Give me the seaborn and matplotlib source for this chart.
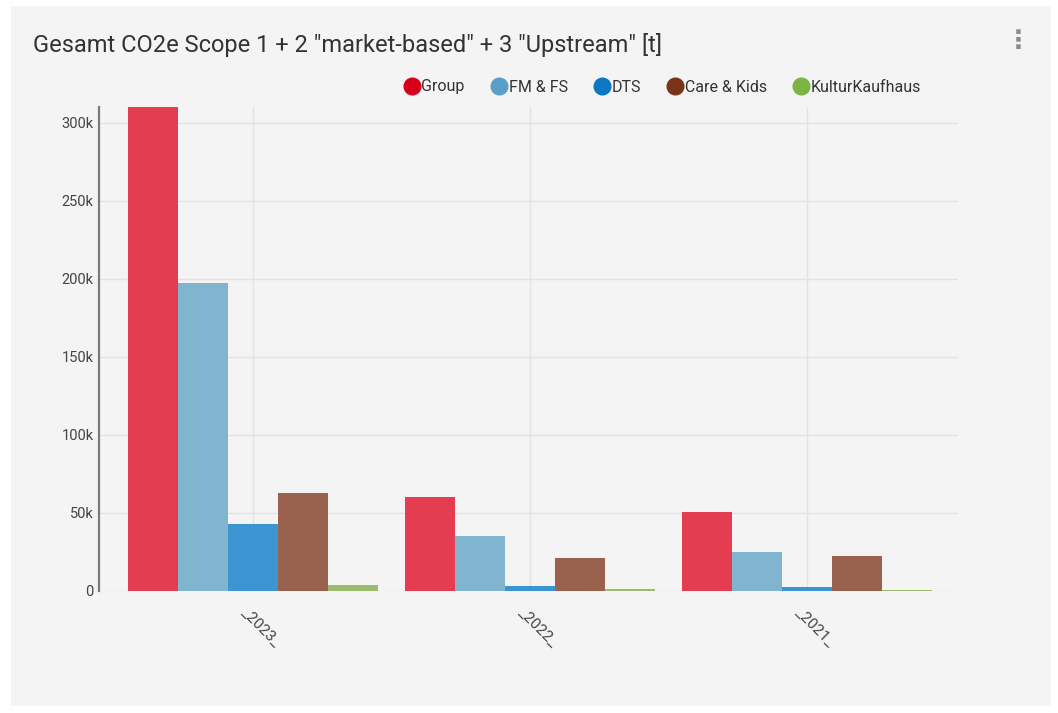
import matplotlib
matplotlib.use("Agg")
import matplotlib.pyplot as plt
import matplotlib.transforms as mtrans
from matplotlib.patches import Rectangle
from matplotlib.lines import Line2D
from matplotlib.ticker import FuncFormatter, MultipleLocator
import seaborn as sns
import pandas as pd

# Data: total CO2e (t) per business unit and year
years = ["_2023_", "_2022_", "_2021_"]
series = ["Group", "FM & FS", "DTS", "Care & Kids", "KulturKaufhaus"]
group_vals = [310000, 60400, 50800]
fmfs_vals = [197000, 35200, 25200]
dts_vals = [42900, 3200, 2700]
care_vals = [62500, 21300, 22200]
kultur_vals = [4000, 1000, 800]

bar_colors = ["#e43c50", "#81b4ce", "#3c94d0", "#9a624e", "#9bbb6e"]
legend_colors = ["#d7001c", "#5a9fc8", "#0a78c2", "#7a3418", "#7cb342"]

values = [group_vals, fmfs_vals, dts_vals, care_vals, kultur_vals]
rows = []
for name, vals in zip(series, values):
    for yr, v in zip(years, vals):
        rows.append({"year": yr, "unit": name, "value": v})
df = pd.DataFrame(rows)

sns.set_theme(style="white")
plt.rcParams["font.family"] = ["Roboto", "DejaVu Sans"]

W, H = 1058, 713
fig = plt.figure(figsize=(W / 100, H / 100), dpi=100)
fig.patch.set_facecolor("white")

# card background
card = Rectangle((11 / W, 1 - 706 / H), (1051 - 11) / W, (706 - 6) / H,
                 transform=fig.transFigure, facecolor="#f4f4f4",
                 edgecolor="none", zorder=-5)
fig.patches.append(card)

ax = fig.add_axes([99 / W, 1 - 591 / H, (958 - 99) / W, (591 - 107) / H])
ax.set_facecolor("#f4f4f4")

sns.barplot(data=df, x="year", y="value", hue="unit", order=years,
            hue_order=series, palette=bar_colors, width=0.9, saturation=1,
            dodge=True, ax=ax, legend=False, errorbar=None, linewidth=0)

ax.set_ylim(0, max(group_vals))
ax.set_xlim(-0.556, 2.545)
ax.yaxis.set_major_locator(MultipleLocator(50000))
ax.yaxis.set_major_formatter(FuncFormatter(lambda v, p: "0" if v == 0 else f"{int(v/1000)}k"))
ax.set_xlabel("")
ax.set_ylabel("")

ax.grid(True, axis="both", color="#e2e2e2", linewidth=1)
ax.set_axisbelow(True)
for s in ["top", "right", "bottom"]:
    ax.spines[s].set_visible(False)
ax.spines["left"].set_color("#7a7a7a")
ax.spines["left"].set_linewidth(1.6)

ax.tick_params(axis="y", length=0, pad=4, labelsize=10.5, labelcolor="#444444")
ax.tick_params(axis="x", length=0, pad=14, labelsize=11, labelcolor="#444444")

# rotated year labels, hanging down to the right of each category centre
offset = mtrans.ScaledTranslation(-10 / 100, 0, fig.dpi_scale_trans)
for lbl in ax.get_xticklabels():
    lbl.set_rotation(-45)
    lbl.set_ha("left")
    lbl.set_va("center")
    lbl.set_rotation_mode("anchor")
    lbl.set_transform(lbl.get_transform() + offset)

# legend with round markers
handles = [Line2D([0], [0], marker="o", linestyle="none", markersize=12,
                  markerfacecolor=c, markeredgecolor=c) for c in legend_colors]
fig.legend(handles, series, loc="center", bbox_to_anchor=(662 / W, 1 - 87 / H),
           ncol=5, frameon=False, fontsize=11.5, handletextpad=0.05,
           columnspacing=1.6, borderaxespad=0, handlelength=1.1,
           labelcolor="#333333")

fig.text(33 / W, 1 - 45 / H, 'Gesamt CO2e Scope 1 + 2 "market-based" + 3 "Upstream" [t]',
         ha="left", va="center", fontsize=17, color="#333333")
fig.text(1018 / W, 1 - 41 / H, "\u22ee", ha="center", va="center", fontsize=18,
         color="#8a8a8a", family="DejaVu Sans", fontweight="bold")

fig.savefig("out.png", dpi=100, facecolor=fig.get_facecolor())
